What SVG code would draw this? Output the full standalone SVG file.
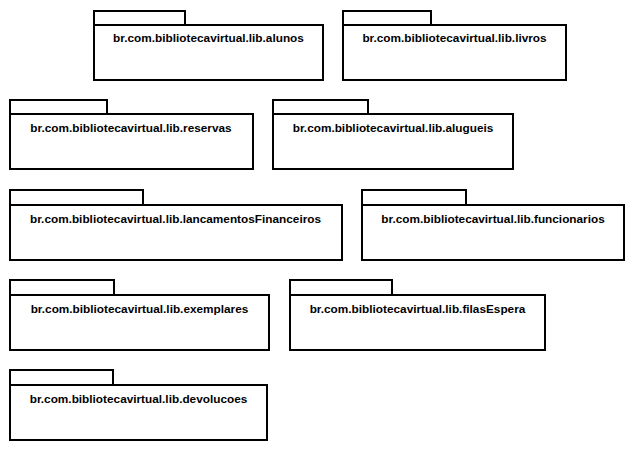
<svg xmlns="http://www.w3.org/2000/svg" width="635" height="451" viewBox="0 0 635 451">
<style>
.pk{fill:#fff;stroke:#000;stroke-width:2}
.lb{font-family:"Liberation Sans",Arial,sans-serif;font-weight:bold;font-size:11.8px;fill:#000;text-anchor:middle}
</style>
<rect width="635" height="451" fill="#fff"/>
<g id="connectors"/>
<g id="pkg-alunos">
<rect class="pk" x="94" y="11" width="91" height="14"/>
<rect class="pk" x="94" y="25" width="229" height="55"/>
<text class="lb" x="208.5" y="42">br.com.bibliotecavirtual.lib.alunos</text>
</g>
<g id="pkg-livros">
<rect class="pk" x="343" y="11" width="88" height="14"/>
<rect class="pk" x="343" y="25" width="223" height="55"/>
<text class="lb" x="454.5" y="42">br.com.bibliotecavirtual.lib.livros</text>
</g>
<g id="pkg-reservas">
<rect class="pk" x="10" y="100" width="97" height="14"/>
<rect class="pk" x="10" y="114" width="243" height="55"/>
<text class="lb" x="131" y="131.5">br.com.bibliotecavirtual.lib.reservas</text>
</g>
<g id="pkg-alugueis">
<rect class="pk" x="273" y="100" width="95" height="14"/>
<rect class="pk" x="273" y="114" width="240" height="55"/>
<text class="lb" x="393" y="131.5">br.com.bibliotecavirtual.lib.alugueis</text>
</g>
<g id="pkg-lancamentosFinanceiros">
<rect class="pk" x="10" y="190" width="133" height="15"/>
<rect class="pk" x="10" y="205" width="332" height="55"/>
<text class="lb" x="175.5" y="222.5">br.com.bibliotecavirtual.lib.lancamentosFinanceiros</text>
</g>
<g id="pkg-funcionarios">
<rect class="pk" x="362" y="190" width="104" height="15"/>
<rect class="pk" x="362" y="205" width="262" height="55"/>
<text class="lb" x="493" y="222.5">br.com.bibliotecavirtual.lib.funcionarios</text>
</g>
<g id="pkg-exemplares">
<rect class="pk" x="10" y="280" width="104" height="15"/>
<rect class="pk" x="10" y="295" width="259" height="55"/>
<text class="lb" x="139.5" y="312.5">br.com.bibliotecavirtual.lib.exemplares</text>
</g>
<g id="pkg-filasEspera">
<rect class="pk" x="290" y="280" width="102" height="15"/>
<rect class="pk" x="290" y="295" width="255" height="55"/>
<text class="lb" x="417.5" y="312.5">br.com.bibliotecavirtual.lib.filasEspera</text>
</g>
<g id="pkg-devolucoes">
<rect class="pk" x="10" y="370" width="103" height="15"/>
<rect class="pk" x="10" y="385" width="257" height="55"/>
<text class="lb" x="138.5" y="402.5">br.com.bibliotecavirtual.lib.devolucoes</text>
</g>
</svg>
